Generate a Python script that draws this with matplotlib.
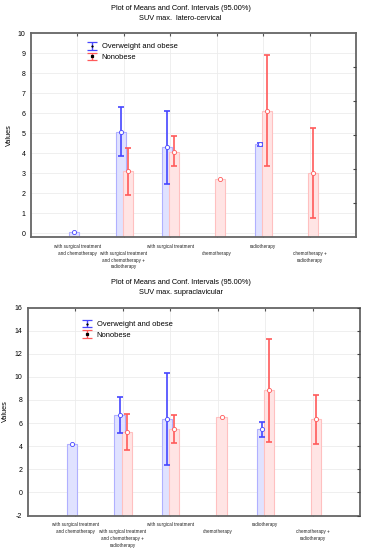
import numpy as np
import matplotlib
matplotlib.use("Agg")
import matplotlib.pyplot as plt

plt.rcParams['font.family'] = ['Liberation Sans', 'DejaVu Sans']

nan = np.nan
categories = ["with surgical treatment\nand chemotherapy",
              "with surgical treatment\nand chemotherapy +\nradiotherapy",
              "with surgical treatment",
              "chemotherapy",
              "radiotherapy",
              "chemotherapy +\nradiotherapy"]
series_names = ["Overweight and obese", "Nonobese"]

# SUV max. latero-cervical
top_obese_mean = [0.05, 5.05, 4.28, nan, 4.43, nan]
top_obese_low = [nan, 3.83, 2.47, nan, 4.37, nan]
top_obese_high = [nan, 6.28, 6.08, nan, 4.48, nan]
top_non_mean = [nan, 3.08, 4.05, 2.68, 6.12, 3.00]
top_non_low = [nan, 1.90, 3.33, nan, 3.33, 0.75]
top_non_high = [nan, 4.25, 4.83, nan, 8.88, 5.25]

# SUV max. supraclavicular
bot_obese_mean = [4.17, 6.70, 6.35, nan, 5.45, nan]
bot_obese_low = [nan, 5.10, 2.35, nan, 4.80, nan]
bot_obese_high = [nan, 8.25, 10.30, nan, 6.05, nan]
bot_non_mean = [nan, 5.22, 5.50, 6.52, 8.87, 6.35]
bot_non_low = [nan, 3.65, 4.30, nan, 4.38, 4.20]
bot_non_high = [nan, 6.80, 6.72, nan, 13.24, 8.40]

title1 = "Plot of Means and Conf. Intervals (95.00%)"
subtitle_top = "SUV max.  latero-cervical"
subtitle_bot = "SUV max. supraclavicular"

BLUE = "#4646ff"
RED = "#ff5a5a"
BLUE_FILL = "#e0e2ff"
BLUE_EDGE = "#b0b0ff"
RED_FILL = "#ffe4e4"
RED_EDGE = "#ffc0c0"

fig = plt.figure(figsize=(3.65, 5.5), dpi=100)


def panel(rect, ylim, yticks, right_ticks, subtitle, title_y, data, leg_anchor, ylab_x):
    ax = fig.add_axes(rect)
    x = np.arange(1, len(categories) + 1)
    ybot = ylim[0]
    specs = [(-0.07, BLUE_FILL, BLUE_EDGE, BLUE, '+', data[0]),
             (0.08, RED_FILL, RED_EDGE, RED, 's', data[1])]
    handles = []
    for off, fc, ec, lc, mk, (m, lo, hi) in specs:
        m = np.array(m, float); lo = np.array(lo, float); hi = np.array(hi, float)
        ax.bar(x + off, m - ybot, bottom=ybot, width=0.215, color=fc,
               edgecolor=ec, linewidth=0.8, zorder=2)
        ok = ~np.isnan(lo)
        ax.errorbar((x + off)[ok], m[ok], yerr=[m[ok] - lo[ok], hi[ok] - m[ok]],
                    fmt='none', ecolor=lc, elinewidth=1.2, capsize=1.9,
                    capthick=1.2, zorder=3)
        ax.plot(x + off, m, linestyle='none', marker='o', markersize=3.0,
                markerfacecolor='white', markeredgecolor=lc, markeredgewidth=0.6,
                zorder=4)
        h = ax.errorbar([nan], [nan], yerr=[[1], [1]], fmt=mk, color='black',
                        markersize=2.0, markeredgewidth=0.9, ecolor=lc,
                        elinewidth=1.0, capsize=3.5, capthick=1.0)
        handles.append(h)
    ax.set_xlim(0, 7)
    ax.set_ylim(*ylim)
    ax.set_yticks(yticks)
    ax.set_yticklabels([str(v) for v in yticks], fontsize=5)
    ax.set_xticks(x)
    labs = [("" if i % 2 == 0 else "\n") + c for i, c in enumerate(categories)]
    ax.set_xticklabels(labs, fontsize=3.3, linespacing=1.45, color='#222222')
    ax.tick_params(axis='y', length=0, pad=4)
    ax.tick_params(axis='x', direction='in', length=2, top=True, pad=5, color='#555555')
    ax.grid(True, color='#ececec', linewidth=0.6, zorder=0)
    ax.set_axisbelow(True)
    for s in ax.spines.values():
        s.set_color('#666666')
        s.set_linewidth(1.3)
    ax2 = ax.twinx()
    ax2.set_ylim(*ylim)
    ax2.set_yticks(right_ticks)
    ax2.set_yticklabels([])
    ax2.tick_params(axis='y', direction='in', length=2, color='#444444')
    for s in ax2.spines.values():
        s.set_visible(False)
    ax.set_ylabel("Values", fontsize=5.3)
    ax.yaxis.set_label_coords(ylab_x, 0.5)
    ax.legend(handles, series_names, loc='upper left', bbox_to_anchor=leg_anchor,
              frameon=False, fontsize=5.4, handlelength=1.1, handletextpad=0.8,
              labelspacing=0.45, borderaxespad=0)
    fig.text(0.495, title_y, title1 + "\n" + subtitle, ha='center', va='top',
             fontsize=5.3, linespacing=1.55)
    return ax


ax_top = panel([31 / 365, (550 - 237) / 550, 325 / 365, 204 / 550], (-0.2, 10),
               list(range(0, 11)), [1.5, 3.2, 4.9, 6.6, 8.3], subtitle_top, 1 - 5.5 / 550,
               [(top_obese_mean, top_obese_low, top_obese_high),
                (top_non_mean, top_non_low, top_non_high)],
               (0.165, 0.965), -0.054)
ax_bot = panel([28 / 365, (550 - 515.5) / 550, 332 / 365, 208 / 550], (-2, 16),
               list(range(-2, 17, 2)), list(range(-2, 17, 2)), subtitle_bot, 1 - 279 / 550,
               [(bot_obese_mean, bot_obese_low, bot_obese_high),
                (bot_non_mean, bot_non_low, bot_non_high)],
               (0.155, 0.95), -0.056)

fig.savefig("out.png", dpi=100)
